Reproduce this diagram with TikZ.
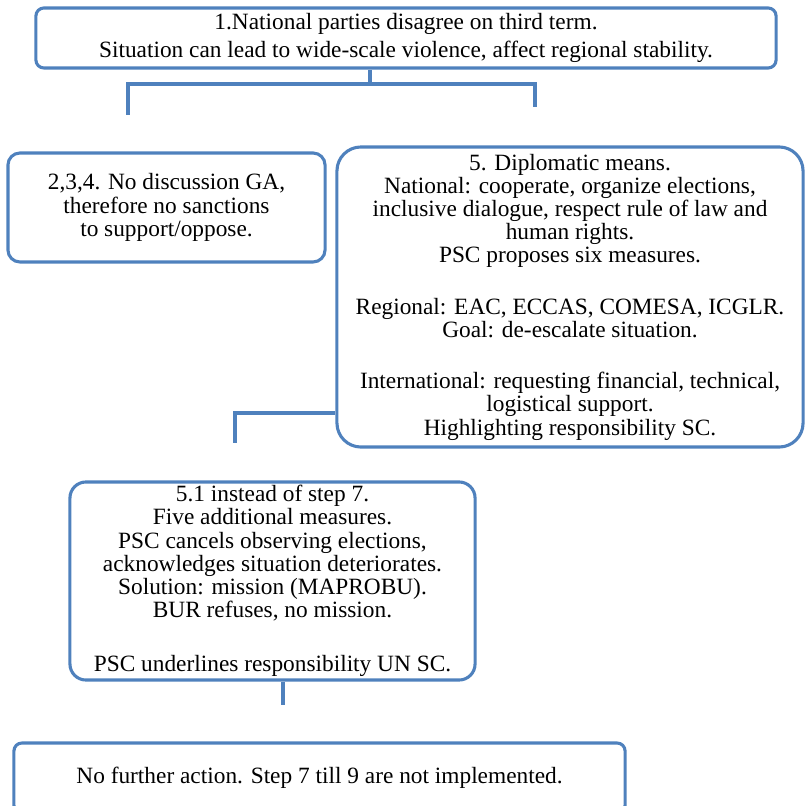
\documentclass[tikz,border=0pt]{standalone}
\usepackage{fontspec}
\setmainfont{Liberation Serif}
\definecolor{boxblue}{RGB}{79,129,189}
\begin{document}
\begin{tikzpicture}[x=0.025cm,y=-0.025cm,line width=2.2pt,
  box/.style={draw=boxblue,align=center,inner sep=0pt,font=\fontsize{16.6}{16.5}\selectfont},
  link/.style={draw=boxblue}]
\clip (0,0) rectangle (806,806);
\node[box,rounded corners=0.2cm,minimum width=18.5cm,minimum height=1.5cm,font=\fontsize{16.6}{20}\selectfont] (n1) at (406,38) {1.National parties disagree on third term.\\Situation  can lead to wide-scale violence,  affect regional stability.};
\node[box,rounded corners=0.3cm,minimum width=7.925cm,minimum height=2.725cm] (n234) at (166.5,207.5) {2,3,4.  No discussion  GA,\\therefore no sanctions\\to support/oppose.};
\node[box,rounded corners=0.6cm,minimum width=11.65cm,minimum height=7.5cm] (n5) at (570,297) {5. Diplomatic  means.\\National:  cooperate, organize  elections,\\inclusive  dialogue,  respect rule of law and\\human rights.\\PSC proposes six measures.\\[20pt]Regional:  EAC, ECCAS, COMESA, ICGLR.\\Goal:  de-escalate situation.\\[20pt]International:  requesting  financial,  technical,\\logistical  support.\\Highlighting  responsibility  SC.};
\node[box,rounded corners=0.4cm,minimum width=10.125cm,minimum height=4.95cm] (n51) at (272.5,581) {5.1 instead of step 7.\\Five  additional  measures.\\PSC cancels observing  elections,\\acknowledges situation  deteriorates.\\Solution:  mission  (MAPROBU).\\BUR refuses, no mission.\\[22pt]PSC underlines  responsibility  UN SC.};
\node[box,rounded corners=0.2cm,minimum width=15.275cm,minimum height=1.75cm] (n6) at (319.5,778) {No further action. Step 7 till  9 are not implemented.};
\coordinate (j1) at (370,84);
\coordinate (a2) at (128,115);
\coordinate (a5) at (535,107);
\coordinate (b51) at (235,443);
\coordinate (c6) at (283,705);
\draw[link] (j1 |- n1.south) -- (j1);
\draw[link] (a2) -- (a2 |- j1) -- (j1 -| a5) -- (a5);
\draw[link] (n5.west |- 0,413) -| (b51);
\draw[link] (c6 |- n51.south) -- (c6);
\end{tikzpicture}
\end{document}
